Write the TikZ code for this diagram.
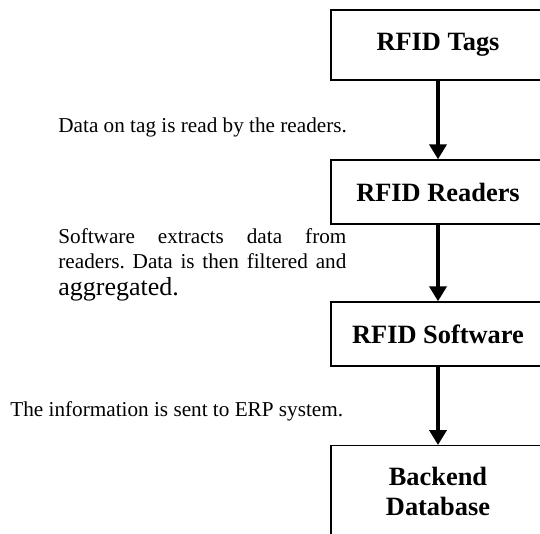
\documentclass[tikz,border=0pt]{standalone}
\usepackage{fontspec}
\setmainfont{Liberation Serif}
\usetikzlibrary{arrows.meta}
\frenchspacing

\begin{document}
\begin{tikzpicture}[x=0.5pt, y=-0.5pt]
    \tikzstyle{stage}=[rectangle, draw=black, line width=0.7pt, minimum width=107pt, inner sep=0pt, align=center, font=\fontsize{13.2}{15}\selectfont\bfseries]
    \tikzstyle{note}=[inner sep=0pt, font=\fontsize{10.6}{12.5}\selectfont]
    \tikzstyle{flow}=[line width=2.3pt, -{Triangle[width=8.5pt, length=7.5pt]}]

    % canvas (boxes run off the right and bottom edge)
    \useasboundingbox (0,0) rectangle (540,534);
    \clip (0,0) rectangle (540,534);
    \fill[white] (0,0) rectangle (540,534);

    % stages
    \node[stage, minimum height=35pt] (tags) at (438,45) {RFID Tags};
    \node[stage, minimum height=32pt] (readers) at (438,192) {RFID Readers};
    \node[stage, minimum height=32pt] (software) at (438,334) {RFID Software};
    \node[stage, minimum height=46pt, anchor=north] (db) at (438,445) {Backend\\Database};

    % arrows between stages
    \foreach \a/\b in {tags/readers, readers/software, software/db} {
        \draw[flow] (\a) -- (\b);
    }

    % notes on the left
    \node[note, anchor=base west] (read) at (58,133) {Data on tag is read by the readers.};
    \node[note, anchor=north west, align=left] (extract) at (58,228) {%
        \makebox[144pt][s]{Software extracts data from}\\
        \makebox[144pt][s]{readers. Data is then filtered and}\\[1pt]
        {\fontsize{13}{15}\selectfont aggregated.}};
    \node[note, anchor=base west] (send) at (10,416) {The information is sent to ERP system.};
\end{tikzpicture}
\end{document}
